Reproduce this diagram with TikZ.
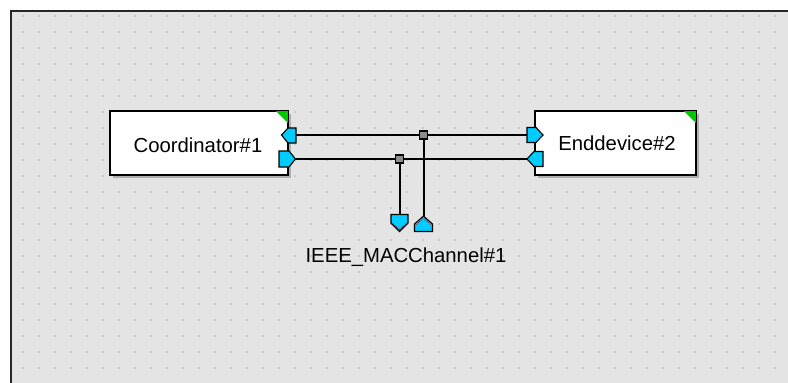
\documentclass[tikz,border=0pt]{standalone}
\usepackage{fontspec}
\setmainfont{Liberation Sans}
\definecolor{canvas}{RGB}{228,228,228}
\definecolor{dotc}{RGB}{200,200,200}
\definecolor{portc}{RGB}{0,204,255}
\definecolor{cornerg}{RGB}{0,200,0}
\definecolor{junc}{RGB}{140,140,140}
\definecolor{shadowc}{RGB}{175,175,175}
\tikzset{
  devbox/.style={draw=black, fill=white, line width=1.8pt, inner sep=0pt,
    font=\fontsize{20.3}{24}\selectfont},
  portshape/.style={draw=black, fill=portc, line width=1.1pt, line join=miter},
  wire/.style={draw=black, line width=2pt},
  junction/.style={draw=black, fill=junc, line width=1.2pt, minimum size=8pt,
    inner sep=0pt, rectangle},
  redmark/.style={draw=red!80!black, line width=0.7pt, dash pattern=on 1pt off 1pt},
  lbl/.style={font=\fontsize{20.3}{24}\selectfont, inner sep=0pt}
}
\begin{document}
\begin{tikzpicture}[x=1pt,y=-1pt]
\useasboundingbox (0,0) rectangle (788,383);
\fill[white] (0,0) rectangle (788,383);
\fill[canvas] (11,11) rectangle (788,383);
\draw[black!85, line width=2pt] (11,383) -- (11,11) -- (788,11);
\foreach \i in {0,...,47} {
  \foreach \j in {0,...,22} {
    \fill[dotc] ({21.7+16*\i},{14.7+16*\j}) rectangle ++(2,2);
  }
}
% shadows
\fill[shadowc] (113,114) rectangle (291,178);
\fill[shadowc] (538,114) rectangle (699,178);
% device boxes
\node[devbox, minimum width=178pt, minimum height=64pt] (coord) at (199,143) {};
\node[lbl] (coordtxt) at (198,145) {Coordinator\#1};
\node[devbox, minimum width=161pt, minimum height=64pt] (endd) at (615.5,143) {};
\node[lbl] (enddtxt) at (617,143) {Enddevice\#2};
% green corners
\fill[cornerg] ([shift={(-1,1)}]coord.north east) -- ++(-12,0) -- ++(12,12) -- cycle;
\fill[cornerg] ([shift={(-1,1)}]endd.north east) -- ++(-12,0) -- ++(12,12) -- cycle;
% ports on Coordinator
\draw[portshape] (281.5,135) -- (288,128) -- (296,128) -- (296,143) -- (288,143) -- cycle;
\coordinate (c1) at (296,135);
\draw[portshape] (279,151) -- (289,151) -- (295.5,159) -- (289,167) -- (279,167) -- cycle;
\coordinate (c2) at (295.5,159);
% ports on Enddevice
\draw[portshape] (527,127.5) -- (536,127.5) -- (543,135) -- (536,142.5) -- (527,142.5) -- cycle;
\coordinate (e1) at (527,135);
\draw[portshape] (527,159) -- (534,151.5) -- (543,151.5) -- (543,166.5) -- (534,166.5) -- cycle;
\coordinate (e2) at (527,159);
% channel ports
\draw[portshape] (391,214.5) -- (408,214.5) -- (408,223) -- (399.5,231.5) -- (391,223) -- cycle;
\draw[redmark] (392.8,224) -- (399.5,229.3) -- (406.2,224);
\coordinate (d1) at (399.5,214.5);
\draw[portshape] (423.5,216) -- (432.5,224) -- (432.5,231.5) -- (414.5,231.5) -- (414.5,224) -- cycle;
\draw[redmark] (416.3,224.5) -- (423.5,218.3) -- (430.7,224.5);
\coordinate (u1) at (423.5,216);
% junction points
\coordinate (j1pos) at (423.5,135);
\coordinate (j2pos) at (399.5,159);
% wires
\draw[wire] (c1) -- (e1);
\draw[wire] (c2) -- (e2);
\draw[wire] (j1pos) -- (u1);
\draw[wire] (j2pos) -- (d1);
\node[junction] (j1) at (j1pos) {};
\node[junction] (j2) at (j2pos) {};
% channel label
\node[lbl] (chl) at (406,257) {IEEE\_MACChannel\#1};
\end{tikzpicture}
\end{document}
